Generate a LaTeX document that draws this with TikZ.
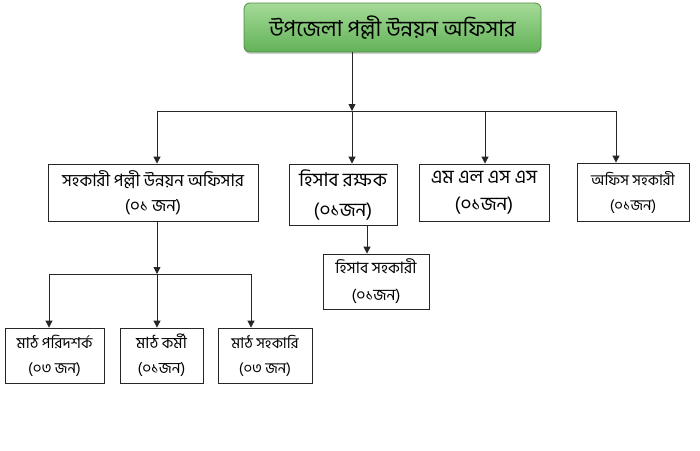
\documentclass[tikz,border=0pt]{standalone}
\usepackage{fontspec}
\newfontfamily\bn[Script=Bengali]{Hind Siliguri}
\usetikzlibrary{arrows.meta,shadows}
\definecolor{gtop}{RGB}{165,218,152}
\definecolor{gbot}{RGB}{98,178,88}
\definecolor{gbord}{RGB}{72,140,62}
\tikzset{
  box/.style={draw=black!85, line width=0.8pt, fill=white, inner sep=0pt, align=center, font=\bn\fontsize{15}{25}\selectfont},
  topbox/.style={draw=gbord, line width=0.8pt, rounded corners=6pt, top color=gtop, bottom color=gbot, drop shadow={shadow xshift=0pt, shadow yshift=-2pt, opacity=0.35}, inner sep=0pt, font=\bn\fontsize{22}{24}\selectfont},
  conn/.style={draw=black!85, line width=0.8pt},
  arr/.style={conn, -{Triangle[width=7pt,length=7pt]}}
}
\begin{document}
\begin{tikzpicture}[x=1pt,y=-1pt]
\useasboundingbox[fill=white] (0,0) rectangle (700,450);
\node[topbox, minimum width=297pt, minimum height=49pt] (top) at (392.5,27.5) {উপজেলা পল্লী উন্নয়ন অফিসার};
\node[box, minimum width=210pt, minimum height=57pt, font=\bn\fontsize{17}{25}\selectfont] (A) at (153,192.5) {সহকারী পল্লী উন্নয়ন অফিসার\\(০১ জন)};
\node[box, minimum width=108pt, minimum height=61pt, font=\bn\fontsize{19}{30}\selectfont] (B) at (343,194.5) {হিসাব রক্ষক\\(০১জন)};
\node[box, minimum width=130pt, minimum height=57pt, font=\bn\fontsize{19}{27}\selectfont] (C) at (484,192.5) {এম এল এস এস\\(০১জন)};
\node[box, minimum width=112pt, minimum height=58pt, font=\bn\fontsize{15}{25}\selectfont] (D) at (633,192) {অফিস সহকারী\\(০১জন)};
\node[box, minimum width=106pt, minimum height=55pt, font=\bn\fontsize{15.8}{27}\selectfont] (E) at (376,281.5) {হিসাব সহকারী\\(০১জন)};
\node[box, minimum width=99pt, minimum height=55pt, font=\bn\fontsize{15.2}{25}\selectfont] (F) at (54.5,355.5) {মাঠ পরিদশর্ক\\(০৩ জন)};
\node[box, minimum width=83pt, minimum height=55pt, font=\bn\fontsize{15.5}{25}\selectfont] (G) at (161.5,355.5) {মাঠ কর্মী\\(০১জন)};
\node[box, minimum width=94pt, minimum height=55pt, font=\bn\fontsize{15}{25}\selectfont] (H) at (265,355.5) {মাঠ সহকারি\\(০৩ জন)};
% junctions
\coordinate (j0) at (352,111);
\coordinate (ja) at (157,111);
\coordinate (jd) at (616,111);
\coordinate (jc) at (485,111);
\coordinate (k0) at (157,274);
\coordinate (kf) at (49,274);
\coordinate (kh) at (251,274);
\coordinate (e0) at (367,225);
% connectors
\draw[arr] (top.south -| j0) -- (j0);
\draw[conn] (ja) -- (jd);
\draw[arr] (ja) -- (ja |- A.north);
\draw[arr] (j0) -- (j0 |- B.north);
\draw[arr] (jc) -- (jc |- C.north);
\draw[arr] (jd) -- (jd |- D.north);
\draw[arr] (A.south -| k0) -- (k0);
\draw[conn] (kf) -- (kh);
\draw[arr] (kf) -- (kf |- F.north);
\draw[arr] (k0) -- (k0 |- G.north);
\draw[arr] (kh) -- (kh |- H.north);
\draw[arr] (B.south -| e0) -- (e0 |- E.north);
\end{tikzpicture}
\end{document}
